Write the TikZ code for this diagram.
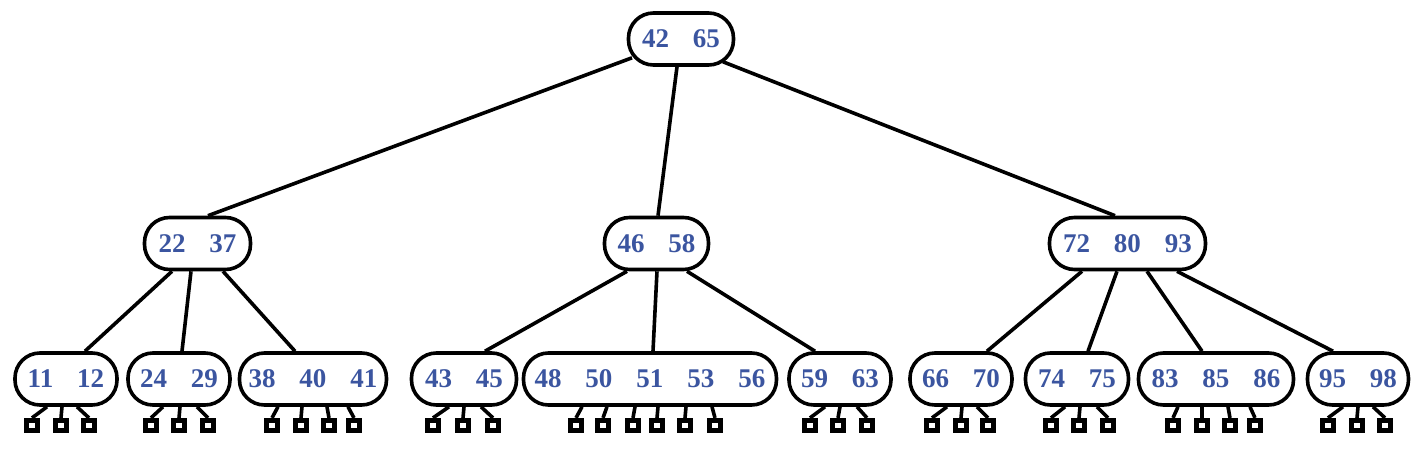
\documentclass[tikz,border=0pt]{standalone}
\usepackage{fontspec}
\setmainfont{Liberation Serif}
\usetikzlibrary{calc,backgrounds}
\definecolor{keyblue}{RGB}{59,85,160}
\newcommand\kk{\hspace{12pt}}
\tikzset{
  bnode/.style={draw, line width=1.8pt, rounded corners=12.5pt, minimum height=26pt,
    inner sep=0pt, fill=white, text=keyblue, font=\bfseries\fontsize{13.5}{15}\selectfont},
  lk/.style={line width=1.8pt},
  sq/.style={draw, line width=2.4pt, minimum size=5.2pt, inner sep=0pt, fill=white},
}
\begin{document}
\begin{tikzpicture}[x=0.5pt,y=-0.5pt]
\useasboundingbox (0,0) rectangle (1426,450);
% root
\node[bnode, minimum width=52.5pt] (root) at (681,39) {42\kk 65};
% level 2
\node[bnode, minimum width=53pt] (n22) at (197.5,243.5) {22\kk 37};
\node[bnode, minimum width=52pt] (n46) at (656.5,243.5) {46\kk 58};
\node[bnode, minimum width=78pt] (n72) at (1127.5,243.5) {72\kk 80\kk 93};
% leaves
\node[bnode, minimum width=51pt] (L1) at (66,379) {11\kk 12};
\node[bnode, minimum width=51pt] (L2) at (179,379) {24\kk 29};
\node[bnode, minimum width=73.5pt] (L3) at (313,379) {38\kk 40\kk 41};
\node[bnode, minimum width=52.5pt] (L4) at (464,379) {43\kk 45};
\node[bnode, minimum width=126.5pt] (L5) at (650,379) {48\kk 50\kk 51\kk 53\kk 56};
\node[bnode, minimum width=51pt] (L6) at (840,379) {59\kk 63};
\node[bnode, minimum width=51pt] (L7) at (961,379) {66\kk 70};
\node[bnode, minimum width=51.5pt] (L8) at (1077,379) {74\kk 75};
\node[bnode, minimum width=77.5pt] (L9) at (1216,379) {83\kk 85\kk 86};
\node[bnode, minimum width=50.5pt] (L10) at (1358,379) {95\kk 98};
\begin{scope}[on background layer]
% root edges
\draw[lk] ($(root.south)+(-49,-9)$) -- ($(n22.north)+(10.5,0)$);
\draw[lk] ($(root.south)+(-4,0)$) -- ($(n46.north)+(1.5,0)$);
\draw[lk] ($(root.south)+(42,-5)$) -- ($(n72.north)+(-12.5,0)$);
% level 2 edges
\draw[lk] ($(n22.south)+(-25.5,0)$) -- ($(L1.north)+(19,0)$);
\draw[lk] ($(n22.south)+(-6.5,0)$) -- ($(L2.north)+(3,0)$);
\draw[lk] ($(n22.south)+(25.5,0)$) -- ($(L3.north)+(-18,0)$);
\draw[lk] ($(n46.south)+(-29.5,0)$) -- ($(L4.north)+(21,0)$);
\draw[lk] ($(n46.south)+(0.5,0)$) -- ($(L5.north)+(3,0)$);
\draw[lk] ($(n46.south)+(30.5,0)$) -- ($(L6.north)+(-25,0)$);
\draw[lk] ($(n72.south)+(-45.5,0)$) -- ($(L7.north)+(26,0)$);
\draw[lk] ($(n72.south)+(-10.5,0)$) -- ($(L8.north)+(11,0)$);
\draw[lk] ($(n72.south)+(19.5,0)$) -- ($(L9.north)+(-14,0)$);
\draw[lk] ($(n72.south)+(49.5,0)$) -- ($(L10.north)+(-25,0)$);
\end{scope}
% leaf pointers (empty subtrees)
\foreach \leaf/\list in {
  L1/{1/32/-19, 2/61/-4, 3/89/11},
  L2/{1/151/-16, 2/179/1, 3/208/18},
  L3/{1/272/-35, 2/301/-11, 3/329/14, 4/354/35},
  L4/{1/433/-15, 2/463/0, 3/493/17},
  L5/{1/576/-68, 2/603/-43, 3/633/-15, 4/657/8, 5/685/36, 6/715/62},
  L6/{1/810/-15, 2/838/0, 3/867/17},
  L7/{1/932/-14, 2/961/1, 3/988/16},
  L8/{1/1051/-12, 2/1079/3, 3/1108/20},
  L9/{1/1173/-38, 2/1202/-14, 3/1230/12, 4/1255/34},
  L10/{1/1328/-15, 2/1357/0, 3/1385/15}} {
  \foreach \i/\sx/\dx in \list {
    \node[sq] (\leaf s\i) at (\sx,425.5) {};
    \draw[lk] ($(\leaf.south)+(\dx,0)$) -- (\leaf s\i.north);
  }
}
\end{tikzpicture}
\end{document}
